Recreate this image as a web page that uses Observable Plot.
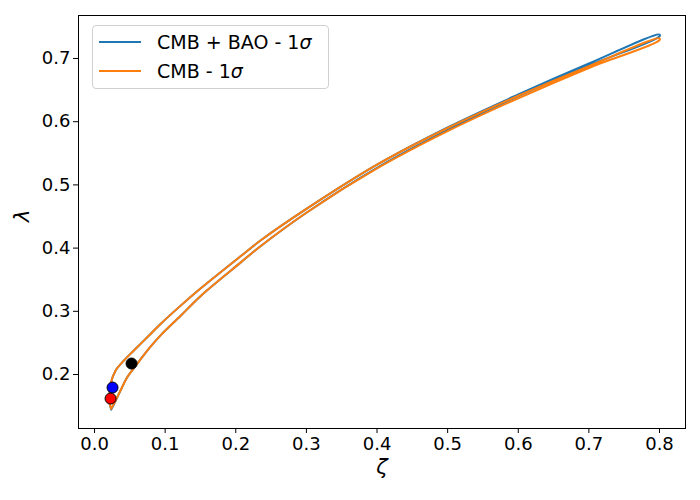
<!DOCTYPE html>
<html>
<head>
<meta charset="utf-8">
<script src="https://cdn.jsdelivr.net/npm/d3@7"></script>
<script src="https://cdn.jsdelivr.net/npm/@observablehq/plot@0.6"></script>
<style>
  html, body { margin: 0; padding: 0; background: #fff; }
  #wrap { position: relative; width: 700px; height: 500px; font-family: "DejaVu Sans", sans-serif; }
  #legend { position: absolute; left: 92px; top: 25px; width: 235px; height: 62px;
            border: 1px solid #d0d0d0; border-radius: 4px; background: rgba(255,255,255,0.8); }
  .item { position: absolute; left: 6px; height: 24px; display: flex; align-items: center; font-size: 19px; color: #000; }
  .sw { width: 42px; height: 2px; margin-right: 16px; }
</style>
</head>
<body>
<div id="wrap"></div>
<script>
// Series names
const seriesNames = ["CMB + BAO - 1σ", "CMB - 1σ"];
const seriesColors = ["#1f77b4", "#ff7f0e"];

// CMB + BAO contour: upper branch (tip -> end), lower branch (end -> tip)
const baoUpperZeta = [0.0236, 0.0205, 0.0215, 0.0227, 0.0297, 0.0415, 0.0557, 0.08, 0.0935, 0.122, 0.15, 0.2067, 0.235, 0.3, 0.4, 0.5, 0.6, 0.7, 0.8];
const baoUpperLambda = [0.1445, 0.160, 0.172, 0.185, 0.206, 0.222, 0.238, 0.265, 0.280, 0.309, 0.336, 0.387, 0.412, 0.462, 0.532, 0.591, 0.643, 0.692, 0.738];
const baoLowerZeta = [0.8, 0.7, 0.6, 0.5, 0.4, 0.3, 0.235, 0.2067, 0.15, 0.122, 0.0935, 0.0793, 0.0604, 0.0463, 0.0368, 0.0274, 0.0236];
const baoLowerLambda = [0.735, 0.689, 0.640, 0.587, 0.527, 0.456, 0.403, 0.377, 0.324, 0.293, 0.262, 0.244, 0.217, 0.1957, 0.1747, 0.1525, 0.1445];

// CMB-only contour
const cmbUpperZeta = [0.0236, 0.0205, 0.0215, 0.0227, 0.0297, 0.0415, 0.0557, 0.08, 0.0935, 0.122, 0.15, 0.2067, 0.235, 0.3, 0.4, 0.5, 0.6, 0.7, 0.8];
const cmbUpperLambda = [0.1457, 0.160, 0.172, 0.185, 0.206, 0.222, 0.238, 0.265, 0.280, 0.309, 0.336, 0.387, 0.412, 0.462, 0.532, 0.590, 0.641, 0.688, 0.732];
const cmbLowerZeta = [0.8, 0.7, 0.6, 0.5, 0.4, 0.3, 0.235, 0.2067, 0.15, 0.122, 0.0935, 0.0793, 0.0604, 0.0463, 0.0368, 0.0274, 0.0236];
const cmbLowerLambda = [0.729, 0.685, 0.637, 0.585, 0.526, 0.456, 0.403, 0.377, 0.324, 0.293, 0.262, 0.244, 0.217, 0.1957, 0.1747, 0.1536, 0.1457];

// Marker points
const pointZeta = [0.0255, 0.0227, 0.0524];
const pointLambda = [0.1794, 0.1620, 0.2174];
const pointColors = ["blue", "red", "black"];

// Tick labels
const xTicks = [0.0, 0.1, 0.2, 0.3, 0.4, 0.5, 0.6, 0.7, 0.8];
const yTicks = [0.2, 0.3, 0.4, 0.5, 0.6, 0.7];

function loop(uz, ul, lz, ll, name) {
  const pts = [];
  uz.forEach((z, i) => pts.push({zeta: z, lambda: ul[i], series: name}));
  lz.forEach((z, i) => pts.push({zeta: z, lambda: ll[i], series: name}));
  return pts;
}
const baoData = loop(baoUpperZeta, baoUpperLambda, baoLowerZeta, baoLowerLambda, seriesNames[0]);
const cmbData = loop(cmbUpperZeta, cmbUpperLambda, cmbLowerZeta, cmbLowerLambda, seriesNames[1]);
const points = pointZeta.map((z, i) => ({zeta: z, lambda: pointLambda[i], color: pointColors[i]}));

const chart = Plot.plot({
  width: 700,
  height: 500,
  marginLeft: 78,
  marginRight: 15,
  marginTop: 15,
  marginBottom: 72,
  style: {fontFamily: "DejaVu Sans, sans-serif", fontSize: "18px", color: "#000", background: "#fff"},
  x: {domain: [-0.0227, 0.8368], label: null},
  y: {domain: [0.1146, 0.768], label: null},
  marks: [
    Plot.line(baoData, {x: "zeta", y: "lambda", stroke: seriesColors[0], strokeWidth: 2, curve: "catmull-rom"}),
    Plot.line(cmbData, {x: "zeta", y: "lambda", stroke: seriesColors[1], strokeWidth: 2, curve: "catmull-rom"}),
    Plot.dot(points, {x: "zeta", y: "lambda", fill: "color", stroke: "black", strokeWidth: 1, r: 5.5}),
    Plot.axisX({ticks: xTicks, tickFormat: d3.format(".1f"), tickSize: 5, tickPadding: 4, fontSize: 18, stroke: "black", label: null}),
    Plot.axisY({ticks: yTicks, tickFormat: d3.format(".1f"), tickSize: 5, tickPadding: 3, fontSize: 18, stroke: "black", label: null}),
    Plot.text(["ζ"], {frameAnchor: "bottom", dy: 45, fontSize: 21, fontStyle: "italic", fill: "black"}),
    Plot.text(["λ"], {frameAnchor: "left", dx: -56, rotate: -90, fontSize: 21, fontStyle: "italic", fill: "black"}),
    Plot.frame({stroke: "black", strokeWidth: 1})
  ]
});
const wrap = document.getElementById("wrap");
wrap.appendChild(chart);

const legend = document.createElement("div");
legend.id = "legend";
seriesNames.forEach((name, i) => {
  const item = document.createElement("div");
  item.className = "item";
  item.style.top = (4 + i * 28.5) + "px";
  const sw = document.createElement("span");
  sw.className = "sw";
  sw.style.background = seriesColors[i];
  const label = document.createElement("span");
  label.innerHTML = name.replace("σ", "<i>σ</i>");
  item.appendChild(sw);
  item.appendChild(label);
  legend.appendChild(item);
});
wrap.appendChild(legend);
</script>
</body>
</html>
